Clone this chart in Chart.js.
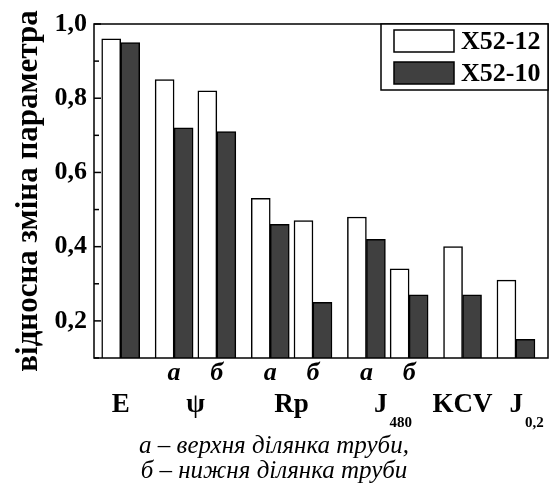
<!DOCTYPE html>
<html>
<head>
<meta charset="utf-8">
<script src="https://cdn.jsdelivr.net/npm/chart.js@4/dist/chart.umd.min.js"></script>
<style>
  html, body { margin: 0; padding: 0; background: #fff; }
  #wrap { width: 559px; height: 502px; }
</style>
</head>
<body>
<div id="wrap"><canvas id="paramChart"></canvas></div>
<script>
// bar groups: position on the x axis, value for each steel, a/b sub-label
const groupPos = [1, 2, 2.8, 3.8, 4.6, 5.6, 6.4, 7.4, 8.4];
const subLabels = ['', 'а', 'б', 'а', 'б', 'а', 'б', '', ''];
const valuesX5212 = [0.96, 0.85, 0.82, 0.53, 0.47, 0.48, 0.34, 0.40, 0.31];
const valuesX5210 = [0.95, 0.72, 0.71, 0.46, 0.25, 0.42, 0.27, 0.27, 0.15];

// parameter names under the groups (with subscripts)
const paramLabels = ['E', 'ψ', 'Rp', 'J', 'KCV', 'J'];
const paramSubs = ['', '', '', '480', '', '0,2'];
const paramPos = [1, 2.4, 4.2, 6.1, 7.4, 8.6];

const seriesNames = ['X52-12', 'X52-10'];
const seriesColors = ['#ffffff', '#404040'];

const serif = '"Liberation Serif", "Times New Roman", serif';

// axis box, inside tick marks, x labels and framed legend
const decorPlugin = {
    id: 'decor',
    afterDraw(chart) {
        const ctx = chart.ctx;
        const a = chart.chartArea;
        const xs = chart.scales.x;
        const ys = chart.scales.y;
        ctx.save();
        ctx.strokeStyle = '#000';
        ctx.lineWidth = 1.5;
        ctx.strokeRect(a.left, a.top, a.right - a.left, a.bottom - a.top);

        // tick marks pointing into the plot
        ys.ticks.forEach(t => {
            const py = ys.getPixelForValue(t.value);
            const major = Math.round(t.value * 10) % 2 === 0;
            ctx.beginPath();
            ctx.moveTo(a.left, py);
            ctx.lineTo(a.left + (major ? 7 : 5), py);
            ctx.stroke();
        });

        ctx.fillStyle = '#000';
        ctx.textAlign = 'center';
        ctx.textBaseline = 'alphabetic';

        // а / б under each bar pair
        ctx.font = 'italic bold 26px ' + serif;
        subLabels.forEach((s, i) => {
            if (s) ctx.fillText(s, xs.getPixelForValue(groupPos[i]), a.bottom + 22);
        });

        // parameter names
        paramLabels.forEach((lbl, i) => {
            const cx = xs.getPixelForValue(paramPos[i]);
            ctx.font = 'bold 27px ' + serif;
            const w1 = ctx.measureText(lbl).width;
            let w2 = 0;
            if (paramSubs[i]) {
                ctx.font = 'bold 15px ' + serif;
                w2 = ctx.measureText(paramSubs[i]).width + 2;
            }
            const left = cx - (w1 + w2) / 2;
            ctx.textAlign = 'left';
            ctx.font = 'bold 27px ' + serif;
            ctx.fillText(lbl, left, a.bottom + 54);
            if (paramSubs[i]) {
                ctx.font = 'bold 15px ' + serif;
                ctx.fillText(paramSubs[i], left + w1 + 2, a.bottom + 69);
            }
            ctx.textAlign = 'center';
        });

        // legend box in the top right corner
        const lx = a.right - 167, ly = a.top, lw = 167, lh = 66;
        ctx.fillStyle = '#fff';
        ctx.fillRect(lx, ly, lw, lh);
        ctx.strokeRect(lx, ly, lw, lh);
        ctx.textAlign = 'left';
        ctx.textBaseline = 'middle';
        ctx.font = 'bold 26px ' + serif;
        chart.data.datasets.forEach((ds, i) => {
            const sy = ly + 6 + i * 32;
            ctx.fillStyle = ds.backgroundColor;
            ctx.fillRect(lx + 13, sy, 60, 22);
            ctx.strokeRect(lx + 13, sy, 60, 22);
            ctx.fillStyle = '#000';
            ctx.fillText(ds.label, lx + 80, sy + 12);
        });
        ctx.restore();
    }
};

const ctx = document.getElementById('paramChart').getContext('2d');
const paramChart = new Chart(ctx, {
    type: 'bar',
    data: {
        datasets: [valuesX5212, valuesX5210].map((vals, i) => ({
            label: seriesNames[i],
            data: vals.map((v, j) => ({ x: groupPos[j], y: v })),
            backgroundColor: seriesColors[i],
            borderColor: '#000',
            borderWidth: 1.5,
            barThickness: 19
        }))
    },
    options: {
        responsive: true,
        maintainAspectRatio: false,
        animation: false,
        layout: { padding: { top: 24, right: 11, left: 0, bottom: 0 } },
        scales: {
            x: {
                type: 'linear',
                min: 0.5,
                max: 9,
                offset: false,
                grid: { display: false },
                border: { display: false },
                ticks: { display: false },
                afterFit(scale) { scale.height = 66; }
            },
            y: {
                min: 0.1,
                max: 1.0,
                grid: { display: false, drawTicks: false },
                border: { display: false },
                ticks: {
                    stepSize: 0.1,
                    padding: 7,
                    color: '#000',
                    font: { family: serif, size: 26, weight: 'bold' },
                    callback: v => Math.round(v * 10) % 2 === 0 ? v.toFixed(1).replace('.', ',') : ''
                },
                title: {
                    display: true,
                    text: 'відносна зміна параметра',
                    color: '#000',
                    padding: { top: 10, bottom: 0 },
                    font: { family: serif, size: 31, weight: 'bold' }
                },
                afterFit(scale) { scale.width = 94; }
            }
        },
        plugins: {
            legend: { display: false },
            tooltip: { enabled: false },
            title: {
                display: true,
                position: 'bottom',
                text: ['а – верхня ділянка труби,', 'б – нижня ділянка труби'],
                color: '#000',
                padding: { top: 10, bottom: 18 },
                font: { family: serif, size: 25, style: 'italic', weight: 'normal', lineHeight: 1.0 }
            }
        }
    },
    plugins: [decorPlugin]
});
</script>
</body>
</html>
